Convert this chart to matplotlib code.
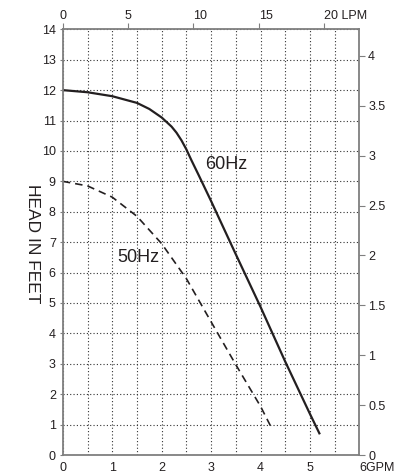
import numpy as np
import matplotlib
matplotlib.use('Agg')
from matplotlib import pyplot as plt

plt.rcParams['font.family'] = ['Liberation Sans', 'DejaVu Sans']

# curve readings (GPM, feet)
gpm_60 = [0, 0.5, 1.0, 1.5, 1.75, 2.0, 2.1, 2.2, 2.3, 2.4, 2.5, 2.6, 2.75, 3.0, 3.5, 4.0, 4.5, 5.0, 5.2]
ft_60 = [12.0, 11.93, 11.8, 11.58, 11.38, 11.1, 10.95, 10.8, 10.6, 10.35, 10.05, 9.7, 9.2, 8.35, 6.6, 4.87, 3.07, 1.35, 0.68]

gpm_50 = [0, 0.5, 1.0, 1.5, 2.0, 2.5, 3.0, 3.5, 4.0, 4.21]
ft_50 = [9.0, 8.85, 8.48, 7.85, 6.95, 5.8, 4.38, 2.97, 1.6, 0.93]

gpm_ticks = [0, 1, 2, 3, 4, 5, 6]
gpm_labels = ['0', '1', '2', '3', '4', '5', '6GPM']
ft_ticks = list(range(0, 15))
lpm_ticks = [0, 5, 10, 15, 20]
lpm_labels = ['0', '5', '10', '15', '20 LPM']
m_ticks = [0, 0.5, 1, 1.5, 2, 2.5, 3, 3.5, 4]
m_labels = ['0', '0.5', '1', '1.5', '2', '2.5', '3', '3.5', '4']

txt = '#231f20'
spc = '#7f7f7f'

fig = plt.figure(figsize=(4, 4.75), dpi=100)
ax = fig.add_axes([0.157, 0.0421, 0.7415, 0.8962])

ax.plot(gpm_60, ft_60, color=txt, lw=1.6, solid_capstyle='butt')
ax.plot(gpm_50, ft_50, color=txt, lw=1.2, dashes=(4.5, 3))

ax.set_xlim(0, 6)
ax.set_ylim(0, 14)
ax.set_xticks(gpm_ticks)
labs = ax.set_xticklabels(gpm_labels)
labs[-1].set_ha('left')
ax.set_xticks(np.arange(0.5, 6, 1.0), minor=True)
ax.set_yticks(ft_ticks)
ax.tick_params(axis='x', which='both', length=0, pad=5, labelsize=9, colors=txt)
ax.tick_params(axis='y', length=2, pad=3, labelsize=9, colors=txt, color=spc)
ax.grid(True, which='both', axis='x', color='#333333', lw=0.8, ls=(0, (1, 2)))
ax.grid(True, which='major', axis='y', color='#333333', lw=0.8, ls=(0, (1, 2)))

for s in ax.spines.values():
    s.set_color(spc)
    s.set_linewidth(1.3)

# meters on right
ax2 = ax.twinx()
ax2.set_ylim(0, 14 * 0.3048)
ax2.set_yticks(m_ticks)
ax2.set_yticklabels(m_labels)
ax2.tick_params(axis='y', length=4.3, width=0.8, pad=2, labelsize=9, colors=txt, color=spc)
for s in ax2.spines.values():
    s.set_visible(False)

# LPM on top
ax3 = ax.twiny()
ax3.set_xlim(0, 6 * 3.785)
ax3.set_xticks(lpm_ticks)
tl = ax3.set_xticklabels(lpm_labels)
for t in tl[2:]:
    t.set_ha('left')
ax3.tick_params(axis='x', length=4.3, width=0.8, pad=1, labelsize=9, colors=txt, color=spc)
for s in ax3.spines.values():
    s.set_visible(False)

ax.text(2.88, 9.54, '60Hz', fontsize=13, color=txt, va='center', ha='left')
ax.text(1.1, 6.48, '50Hz', fontsize=13, color=txt, va='center', ha='left')

fig.text(25 / 400, 0.487, 'HEAD IN FEET', rotation=-90, fontsize=12.5, color=txt,
         ha='left', va='center')
fig.text(395 / 400, 0.487, 'METERS', rotation=-90, fontsize=12.5, color=txt,
         ha='left', va='center')

fig.savefig('out.png', dpi=100)
